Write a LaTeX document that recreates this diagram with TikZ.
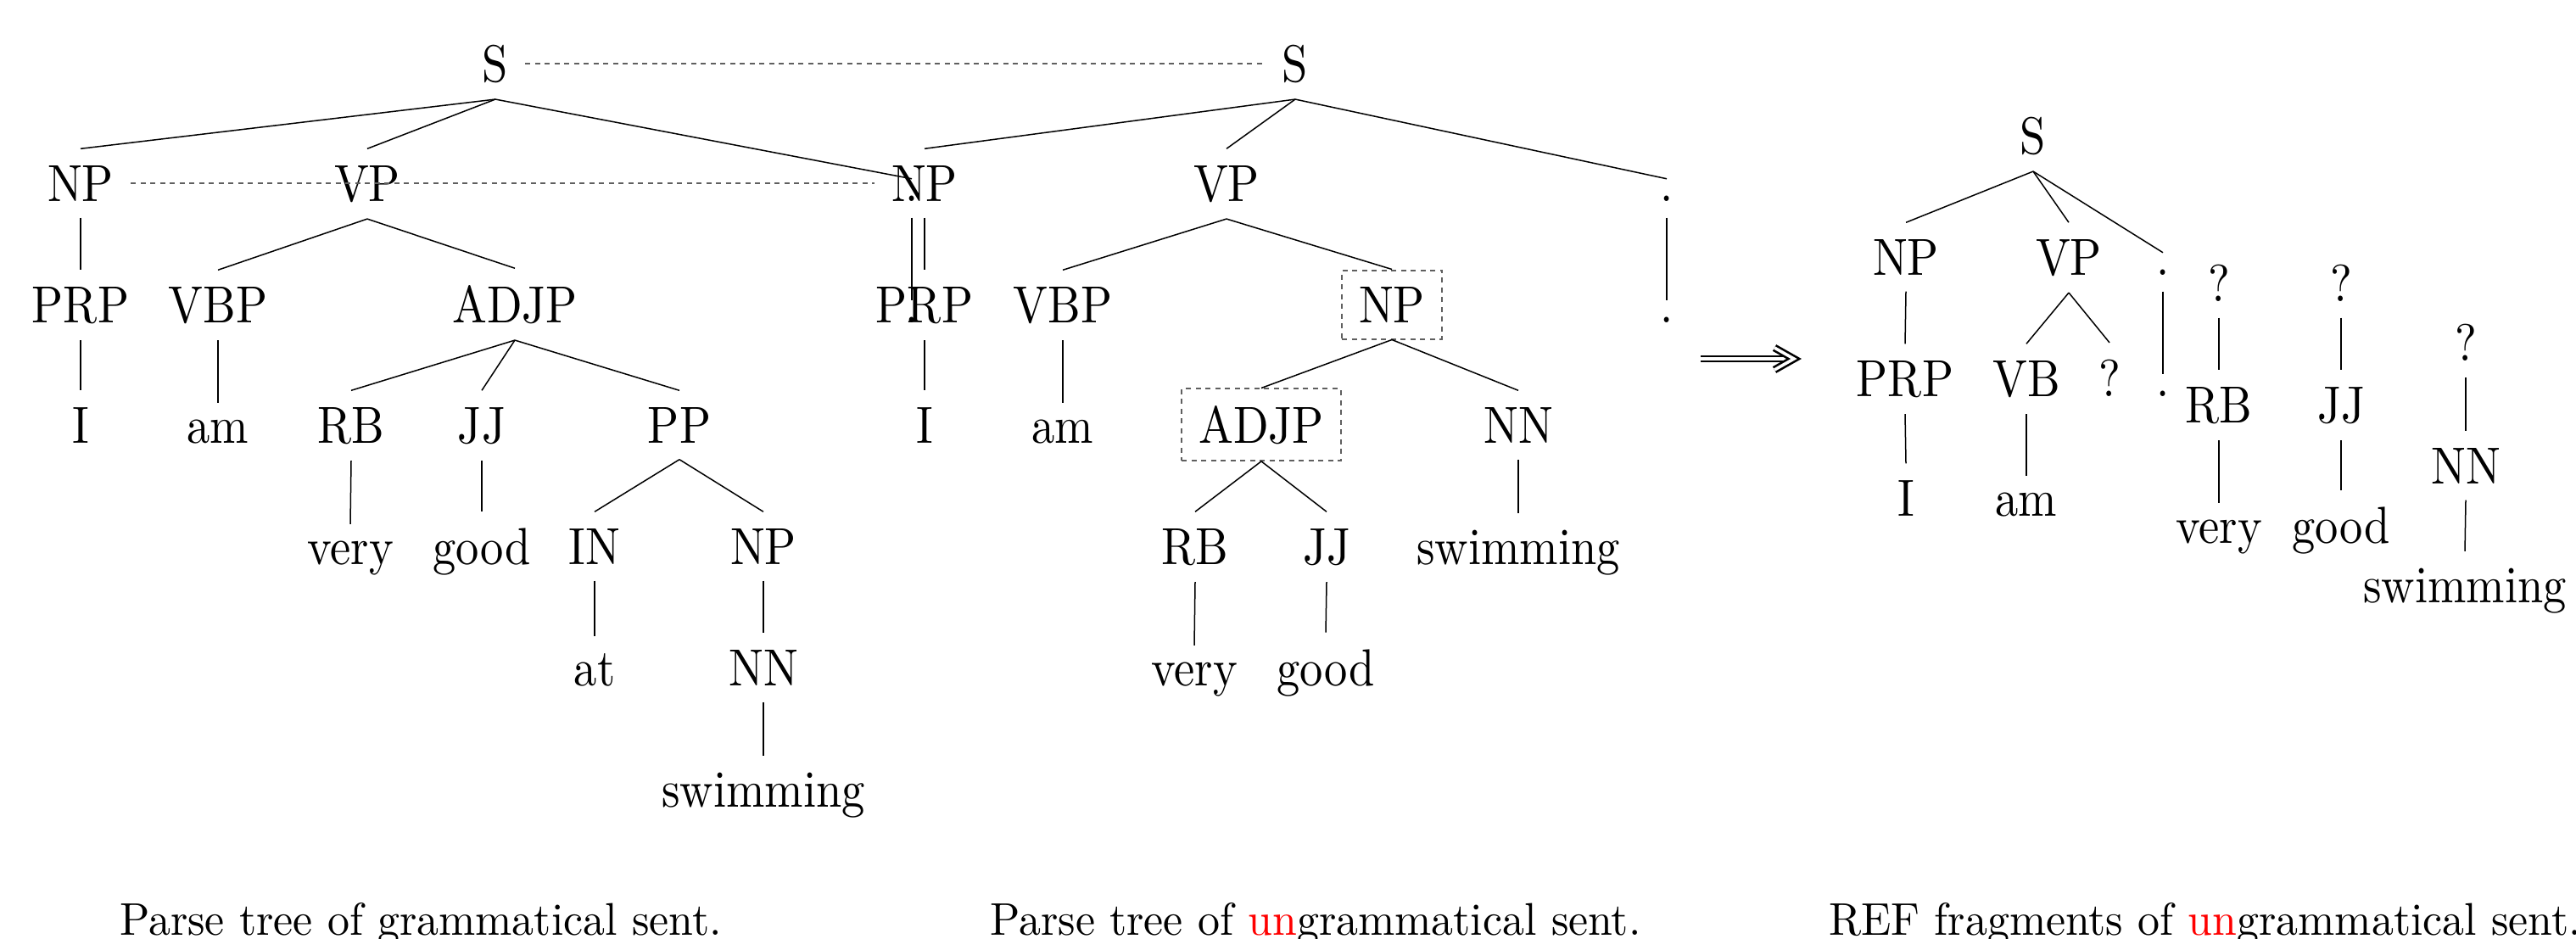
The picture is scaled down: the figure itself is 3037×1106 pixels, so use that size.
\documentclass[tikz,border=0pt]{standalone}
\usepackage{graphicx}
\usepackage{xcolor}
% tree labels and captions are 10pt text blown up to the figure scale
\newcommand\lab[1]{\scalebox{5.45}[6.15]{#1}}
\newcommand\capt[1]{\scalebox{5.19}[5.4]{#1}}
\definecolor{dashgray}{RGB}{95,95,95}
\tikzset{
  tn/.style={inner xsep=20pt, inner ysep=19.5pt, anchor=base},
  boxed/.style={tn, draw=dashgray, line width=2pt, dash pattern=on 6pt off 5.5pt},
  branch/.style={line width=1.5pt},
  link/.style={draw=dashgray, line width=2pt, dash pattern=on 6pt off 5.5pt},
  implies/.style={line width=2.6pt, double distance=3.6pt},
}
\begin{document}
\begin{tikzpicture}[x=1pt, y=-1pt]
\useasboundingbox (0,0) rectangle (3037,1106);

% ---------- parse tree of the grammatical sentence ----------
\node[tn] (s1)    at (584,96)  {\lab{S}};
\node[tn] (np1)   at (95,237)  {\lab{NP}};
\node[tn] (vp1)   at (433,237) {\lab{VP}};
\node[tn] (dot1)  at (1075,237) {\lab{.}};
\node[tn] (prp1)  at (95,380)  {\lab{PRP}};
\node[tn] (vbp1)  at (257,380) {\lab{VBP}};
\node[tn] (adjp1) at (607,380) {\lab{ADJP}};
\node[tn] (dot1b) at (1075,380) {\lab{.}};
\node[tn] (i1)    at (95,522)  {\lab{I}};
\node[tn] (am1)   at (257,522) {\lab{am}};
\node[tn] (rb1)   at (414,522) {\lab{RB}};
\node[tn] (jj1)   at (568,522) {\lab{JJ}};
\node[tn] (pp1)   at (801,522) {\lab{PP}};
\node[tn] (very1) at (413,665) {\lab{very}};
\node[tn] (good1) at (568,665) {\lab{good}};
\node[tn] (in1)   at (701,665) {\lab{IN}};
\node[tn] (npb1)  at (900,665) {\lab{NP}};
\node[tn] (at1)   at (701,808) {\lab{at}};
\node[tn] (nn1)   at (900,808) {\lab{NN}};
\node[tn] (sw1)   at (900,951) {\lab{swimming}};

\draw[branch] (s1.south) -- (np1.north);
\draw[branch] (s1.south) -- (vp1.north);
\draw[branch] (s1.south) -- (dot1.north);
\draw[branch] (np1.south) -- (prp1.north);
\draw[branch] (vp1.south) -- (vbp1.north);
\draw[branch] (vp1.south) -- (adjp1.north);
\draw[branch] (dot1.south) -- (dot1b.north);
\draw[branch] (prp1.south) -- (i1.north);
\draw[branch] (vbp1.south) -- (am1.north);
\draw[branch] (adjp1.south) -- (rb1.north);
\draw[branch] (adjp1.south) -- (jj1.north);
\draw[branch] (adjp1.south) -- (pp1.north);
\draw[branch] (rb1.south) -- (very1.north);
\draw[branch] (jj1.south) -- (good1.north);
\draw[branch] (pp1.south) -- (in1.north);
\draw[branch] (pp1.south) -- (npb1.north);
\draw[branch] (in1.south) -- (at1.north);
\draw[branch] (npb1.south) -- (nn1.north);
\draw[branch] (nn1.south) -- (sw1.north);

% ---------- parse tree of the ungrammatical sentence ----------
\node[tn] (s2)    at (1527,96)  {\lab{S}};
\node[tn] (np2)   at (1090,237) {\lab{NP}};
\node[tn] (vp2)   at (1446,237) {\lab{VP}};
\node[tn] (dot2)  at (1965,237) {\lab{.}};
\node[tn] (prp2)  at (1090,380) {\lab{PRP}};
\node[tn] (vbp2)  at (1253,380) {\lab{VBP}};
\node[boxed] (npb2) at (1641,380) {\lab{NP}};
\node[tn] (dot2b) at (1965,380) {\lab{.}};
\node[tn] (i2)    at (1090,522) {\lab{I}};
\node[tn] (am2)   at (1253,522) {\lab{am}};
\node[boxed] (adjp2) at (1487,522) {\lab{ADJP}};
\node[tn] (nn2)   at (1790,522) {\lab{NN}};
\node[tn] (rb2)   at (1409,665) {\lab{RB}};
\node[tn] (jj2)   at (1564,665) {\lab{JJ}};
\node[tn] (sw2)   at (1790,665) {\lab{swimming}};
\node[tn] (very2) at (1408,808) {\lab{very}};
\node[tn] (good2) at (1563,808) {\lab{good}};

\draw[branch] (s2.south) -- (np2.north);
\draw[branch] (s2.south) -- (vp2.north);
\draw[branch] (s2.south) -- (dot2.north);
\draw[branch] (np2.south) -- (prp2.north);
\draw[branch] (vp2.south) -- (vbp2.north);
\draw[branch] (vp2.south) -- (npb2.north);
\draw[branch] (dot2.south) -- (dot2b.north);
\draw[branch] (prp2.south) -- (i2.north);
\draw[branch] (vbp2.south) -- (am2.north);
\draw[branch] (npb2.south) -- (adjp2.north);
\draw[branch] (npb2.south) -- (nn2.north);
\draw[branch] (adjp2.south) -- (rb2.north);
\draw[branch] (adjp2.south) -- (jj2.north);
\draw[branch] (nn2.south) -- (sw2.north);
\draw[branch] (rb2.south) -- (very2.north);
\draw[branch] (jj2.south) -- (good2.north);

% alignment links between the two trees
\draw[link] (s1.east) -- (s2.west);
\draw[link] (np1.east) -- (np2.west);

% ---------- implication arrow: double shaft and double chevron head ----------
\coordinate (arrs) at (2005,423);
\coordinate (arre) at (2108,423);
\coordinate (arrt) at (2115,423);
\coordinate (arru) at (2092,410);
\coordinate (arrd) at (2092,436);
\draw[implies] (arrs) -- (arre);
\draw[implies, line join=miter] (arru) -- (arrt) -- (arrd);

% ---------- REF fragments ----------
\node[tn] (s3)    at (2397,181) {\lab{S}};
\node[tn] (np3)   at (2247,324) {\lab{NP}};
\node[tn] (vp3)   at (2439,324) {\lab{VP}};
\node[tn] (dot3)  at (2550,324) {\lab{.}};
\node[tn] (q1)    at (2616,355) {\lab{?}};
\node[tn] (q2)    at (2760,355) {\lab{?}};
\node[tn] (q3)    at (2907,425) {\lab{?}};
\node[tn] (prp3)  at (2246,467) {\lab{PRP}};
\node[tn] (vb3)   at (2389,467) {\lab{VB}};
\node[tn] (q4)    at (2487,467) {\lab{?}};
\node[tn] (dot3b) at (2550,467) {\lab{.}};
\node[tn] (rb3)   at (2616,498) {\lab{RB}};
\node[tn] (jj3)   at (2760,498) {\lab{JJ}};
\node[tn] (nn3)   at (2907,570) {\lab{NN}};
\node[tn] (i3)    at (2247,608) {\lab{I}};
\node[tn] (am3)   at (2389,608) {\lab{am}};
\node[tn] (very3) at (2616,640) {\lab{very}};
\node[tn] (good3) at (2760,640) {\lab{good}};
\node[tn] (sw3)   at (2906,710) {\lab{swimming}};

\draw[branch] (s3.south) -- (np3.north);
\draw[branch] (s3.south) -- (vp3.north);
\draw[branch] (s3.south) -- (dot3.north);
\draw[branch] (np3.south) -- (prp3.north);
\draw[branch] (vp3.south) -- (vb3.north);
\draw[branch] (vp3.south) -- (q4.north);
\draw[branch] (dot3.south) -- (dot3b.north);
\draw[branch] (q1.south) -- (rb3.north);
\draw[branch] (q2.south) -- (jj3.north);
\draw[branch] (q3.south) -- (nn3.north);
\draw[branch] (prp3.south) -- (i3.north);
\draw[branch] (vb3.south) -- (am3.north);
\draw[branch] (rb3.south) -- (very3.north);
\draw[branch] (jj3.south) -- (good3.north);
\draw[branch] (nn3.south) -- (sw3.north);

% ---------- captions ----------
\node[anchor=base, inner sep=0pt] (cap1) at (496,1102)
  {\capt{Parse tree of grammatical sent.}};
\node[anchor=base, inner sep=0pt] (cap2) at (1551,1102)
  {\capt{Parse tree of \textcolor{red}{un}grammatical sent.}};
\node[anchor=base west, inner sep=0pt] (cap3) at (2156,1102)
  {\capt{REF fragments of \textcolor{red}{un}grammatical sent.}};
\end{tikzpicture}
\end{document}
